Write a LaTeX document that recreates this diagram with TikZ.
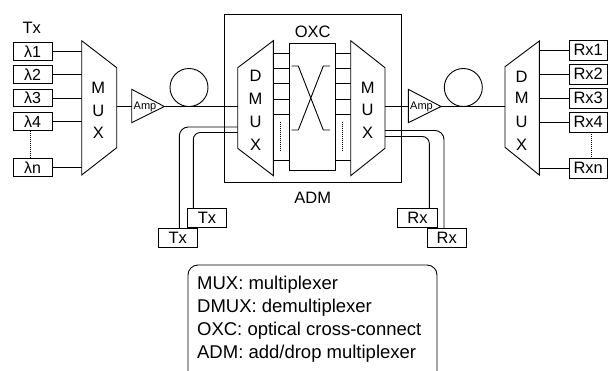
\documentclass[tikz,border=0pt]{standalone}
\usepackage{fontspec}
\setmainfont{Liberation Sans}
\begin{document}
\begin{tikzpicture}[x=1pt,y=-1pt, line width=0.9pt,
  tbox/.style={draw, inner sep=0pt, minimum width=39pt, minimum height=17.5pt, font=\fontsize{16}{18}\selectfont},
  abox/.style={draw, inner sep=0pt, minimum width=39.5pt, minimum height=19pt, font=\fontsize{16.5}{19}\selectfont},
  rbox/.style={draw, inner sep=0pt, minimum width=37.5pt, minimum height=20pt, font=\fontsize{16.5}{19}\selectfont},
  lbl/.style={inner sep=0pt, font=\fontsize{16.5}{19}\selectfont},
  amptext/.style={inner sep=0pt, font=\fontsize{11}{13}\selectfont},
  legtext/.style={inner sep=0pt, anchor=base west, font=\fontsize{18.5}{22}\selectfont},
  fiber/.style={draw, circle, minimum size=38pt, inner sep=0pt},
  dots/.style={densely dotted, line width=1pt}]
\useasboundingbox (0,0) rectangle (608,370);

% ---------- Transmitters ----------
\node[lbl] (txlabel) at (31.7,28) {Tx};
\node[tbox] (l1) at (32.5,51.5) {λ1};
\node[tbox] (l2) at (32.5,74.5) {λ2};
\node[tbox] (l3) at (32.5,98) {λ3};
\node[tbox] (l4) at (32.5,121.3) {λ4};
\node[tbox] (ln) at (32.5,167.3) {λn};
\draw[dots] (l4.south -| 30.7,0) -- (ln.north -| 30.7,0);

% ---------- MUX 1 ----------
\coordinate (m1a) at (81.7,40.7);
\coordinate (m1b) at (116.7,67.7);
\coordinate (m1c) at (116.7,147.7);
\coordinate (m1d) at (81.7,175);
\draw (m1a) -- (m1b) -- (m1c) -- (m1d) -- cycle;
\node[lbl] (m1M) at (98.3,87.5) {M};
\node[lbl] (m1U) at (98.3,111) {U};
\node[lbl] (m1X) at (98.3,133.3) {X};
\foreach \n in {l1,l2,l3,l4,ln} \draw (\n.east) -- (\n.east -| m1a);
\coordinate (m1out) at (116.7,106.5);

% ---------- Amp 1 ----------
\coordinate (a1t) at (131.7,89.3);
\coordinate (a1b) at (131.7,122.7);
\coordinate (a1tip) at (164.3,106.5);
\draw (a1t) -- (a1tip) -- (a1b) -- cycle;
\node[amptext] (amp1) at (145,106.5) {Amp};
\draw (m1out) -- (m1out -| a1t);

% ---------- fiber 1 ----------
\node[fiber] (fib1) at (189,87.5) {};

% ---------- ADM ----------
\node[draw, inner sep=0pt, minimum width=177.7pt, minimum height=168.7pt] (adm) at (312.85,98.35) {};
\node[lbl] (oxc) at (312.7,31.7) {OXC};
\node[lbl] (admlabel) at (312.7,197.7) {ADM};

% DMUX inside ADM
\coordinate (d1a) at (237.7,67.7);
\coordinate (d1b) at (273.3,40.7);
\coordinate (d1c) at (273.3,175.7);
\coordinate (d1d) at (237.7,148.3);
\draw (d1a) -- (d1b) -- (d1c) -- (d1d) -- cycle;
\node[lbl] (d1D) at (255.5,76) {D};
\node[lbl] (d1M) at (255.5,99.3) {M};
\node[lbl] (d1U) at (255.5,121.7) {U};
\node[lbl] (d1X) at (255.5,145) {X};

% switch fabric
\node[draw, inner sep=0pt, minimum width=46pt, minimum height=126.7pt] (sw) at (312.3,106.65) {};
\draw (291.7,66) -- (298.3,66) -- (323.3,130) -- (330,130);
\draw (330,66) -- (323.3,66) -- (298.3,130) -- (291.7,130);

% MUX inside ADM
\coordinate (m2a) at (350.7,40.7);
\coordinate (m2b) at (385,67.7);
\coordinate (m2c) at (385,148.3);
\coordinate (m2d) at (350.7,175.7);
\draw (m2a) -- (m2b) -- (m2c) -- (m2d) -- cycle;
\node[lbl] (m2M) at (367.7,87.7) {M};
\node[lbl] (m2U) at (367.7,110) {U};
\node[lbl] (m2X) at (367.7,132.7) {X};

% fabric ports
\foreach \y in {53.3,68.3,83.7,99.3,114.5,160.7} {
  \draw (d1b |- 0,\y) -- (sw.west |- 0,\y);
  \draw (sw.east |- 0,\y) -- (m2a |- 0,\y);
}
\draw[dots] (280,121.7) -- (280,150);
\draw[dots] (342.7,121.7) -- (342.7,150);

% fiber into DMUX
\draw (a1tip) -- (a1tip -| d1a);

% ---------- Amp 2 ----------
\coordinate (a2t) at (408.3,89.3);
\coordinate (a2b) at (408.3,122.7);
\coordinate (a2tip) at (441,106.5);
\draw (a2t) -- (a2tip) -- (a2b) -- cycle;
\node[amptext] (amp2) at (421.5,106.5) {Amp};
\draw (m2b |- a2tip) -- (a2t |- a2tip);

% ---------- fiber 2 ----------
\node[fiber] (fib2) at (463.3,87.5) {};

% ---------- DMUX 2 ----------
\coordinate (d2a) at (505,66.7);
\coordinate (d2b) at (539.3,41);
\coordinate (d2c) at (539.3,175);
\coordinate (d2d) at (505,147.3);
\draw (d2a) -- (d2b) -- (d2c) -- (d2d) -- cycle;
\node[lbl] (d2D) at (521.7,76.7) {D};
\node[lbl] (d2M) at (521.7,98.3) {M};
\node[lbl] (d2U) at (521.7,121.7) {U};
\node[lbl] (d2X) at (521.7,145) {X};
\draw (a2tip) -- (a2tip -| d2a);

% ---------- Receivers ----------
\node[rbox] (r1) at (588.2,50) {Rx1};
\node[rbox] (r2) at (588.2,74) {Rx2};
\node[rbox] (r3) at (588.2,98) {Rx3};
\node[rbox] (r4) at (588.2,122) {Rx4};
\node[rbox] (rn) at (588.2,168) {Rxn};
\foreach \n in {r1,r2,r3,r4,rn} \draw (\n.west -| d2b) -- (\n.west);
\draw[dots] (r4.south -| 591,0) -- (rn.north -| 591,0);

% ---------- add / drop ----------
\node[abox] (txa) at (207,217.8) {Tx};
\node[abox] (txb) at (177.8,237.8) {Tx};
\node[abox] (rxa) at (417.5,217.8) {Rx};
\node[abox] (rxb) at (446.7,237.8) {Rx};
\coordinate (ado) at (179.3,127);
\coordinate (adi) at (193.3,132.5);
\coordinate (dro) at (444,130.5);
\coordinate (dri) at (429.3,136.5);
\draw[rounded corners=9] (d1a |- ado) -- (ado) -- (ado |- txb.north);
\draw[rounded corners=7] (d1a |- adi) -- (adi) -- (adi |- txa.north);
\draw[rounded corners=9] (m2b |- dro) -- (dro) -- (dro |- rxb.north);
\draw[rounded corners=7] (m2b |- dri) -- (dri) -- (dri |- rxa.north);

% ---------- legend ----------
\draw[rounded corners=10] (188,371) -- (188,265) -- (437,265) -- (437,371);
\node[legtext] (leg1) at (196.7,289.7) {MUX: multiplexer};
\node[legtext] (leg2) at (196.7,312.7) {DMUX: demultiplexer};
\node[legtext] (leg3) at (196.7,335.7) {OXC: optical cross-connect};
\node[legtext] (leg4) at (196.7,358.7) {ADM: add/drop multiplexer};
\end{tikzpicture}
\end{document}
